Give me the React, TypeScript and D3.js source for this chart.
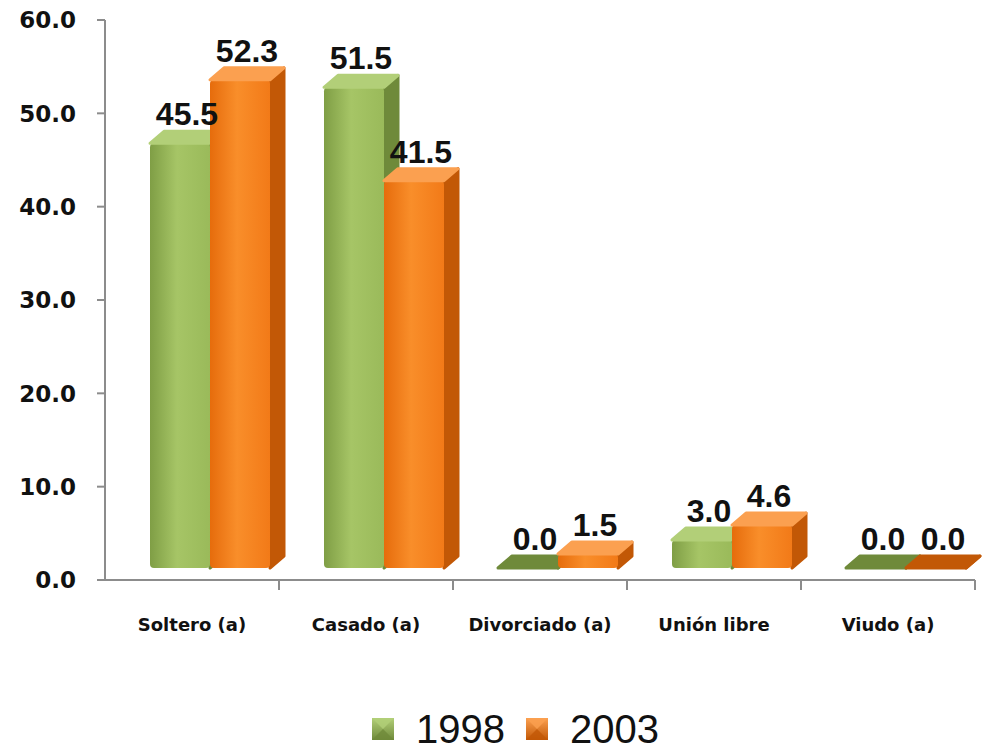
import React from "react";
import * as d3 from "d3";

const categories = ["Soltero (a)", "Casado (a)", "Divorciado (a)", "Unión libre", "Viudo (a)"];
const seriesNames = ["1998", "2003"];
const values1998 = [45.5, 51.5, 0.0, 3.0, 0.0];
const values2003 = [52.3, 41.5, 1.5, 4.6, 0.0];
const yTicks = [0, 10, 20, 30, 40, 50, 60];

const W = 984, H = 752;
const left = 105, right = 975, top = 20, bottom = 580;
const DX = 14, DY = 12;
const TICKFONT = "'DejaVu Sans', sans-serif";
const VALFONT = "'Liberation Sans', Arial, sans-serif";

const palette = [
  { front: ["#7f9e45", "#a6c566", "#9aba5a"], side: "#6f8a3a", top: "#b2cf78", id: "g" },
  { front: ["#e66c0c", "#f98e2a", "#f27a18"], side: "#c25806", top: "#fba050", id: "o" },
];

export default function App() {
  const x = d3.scaleBand<string>().domain(categories).range([left, right]).padding(0);
  const inner = d3.scaleBand<string>().domain(seriesNames).range([45, 165]).padding(0);
  const y = d3.scaleLinear().domain([0, 60]).range([bottom, top]);
  const series = [values1998, values2003];
  const bw = inner.bandwidth();
  const legendX = [372, 526];

  return (
    <svg width={W} height={H} style={{ position: "absolute", left: 0, top: 0, background: "#fff" }}>
      <defs>
        {palette.map((p) => (
          <linearGradient key={p.id} id={"front-" + p.id} x1="0" x2="1" y1="0" y2="0">
            <stop offset="0%" stopColor={p.front[0]} />
            <stop offset="45%" stopColor={p.front[1]} />
            <stop offset="100%" stopColor={p.front[2]} />
          </linearGradient>
        ))}
        {palette.map((p) => (
          <linearGradient key={"l" + p.id} id={"leg-" + p.id} x1="0" x2="0" y1="0" y2="1">
            <stop offset="0%" stopColor={p.top} />
            <stop offset="100%" stopColor={p.side} />
          </linearGradient>
        ))}
      </defs>
      {/* axes */}
      <line x1={left} x2={left} y1={top} y2={bottom} stroke="#8c8c8c" strokeWidth={2} />
      <line x1={left - 8} x2={right} y1={bottom} y2={bottom} stroke="#8c8c8c" strokeWidth={2} />
      {yTicks.map((t) => (
        <g key={t}>
          <line x1={left - 8} x2={left} y1={y(t)} y2={y(t)} stroke="#8c8c8c" strokeWidth={2} />
          <text x={76} y={y(t)} dy="0.36em" textAnchor="end" fontFamily={TICKFONT} fontWeight={700} fontSize={23} fill="#111">
            {t.toFixed(1)}
          </text>
        </g>
      ))}
      {categories.map((c, i) => (
        <line key={"xt" + i} x1={x(c)! + x.bandwidth()} x2={x(c)! + x.bandwidth()} y1={bottom} y2={bottom + 10} stroke="#8c8c8c" strokeWidth={2} />
      ))}
      {categories.map((c) => (
        <text key={"xl" + c} x={x(c)! + x.bandwidth() / 2} y={625} dy="0.36em" textAnchor="middle" fontFamily={TICKFONT} fontWeight={700} fontSize={18} fill="#111">
          {c}
        </text>
      ))}
      {/* bars */}
      {categories.map((c, i) =>
        seriesNames.map((s, si) => {
          const v = series[si][i];
          const p = palette[si];
          const x0 = x(c)! + inner(s)!;
          const x1 = x0 + bw;
          const yb = y(0) - DY;
          const yt = y(v) - DY;
          const h = yb - yt;
          const sidePath = `M${x1},${yt} L${x1 + DX},${yt - DY} L${x1 + DX},${yb - DY} L${x1},${yb} Z`;
          const topPath = `M${x0},${yt} L${x0 + DX},${yt - DY} L${x1 + DX},${yt - DY} L${x1},${yt} Z`;
          return (
            <g key={c + s}>
              <path d={sidePath} fill={p.side} stroke={p.side} strokeLinejoin="round" strokeWidth={3} />
              {h > 0 && <rect x={x0} y={yt} width={bw} height={h} rx={4} fill={`url(#front-${p.id})`} />}
              <path d={topPath} fill={h > 0 ? p.top : p.side} stroke={h > 0 ? p.top : p.side} strokeLinejoin="round" strokeWidth={3} />
            </g>
          );
        })
      )}
      {/* value labels */}
      {categories.map((c, i) =>
        seriesNames.map((s, si) => {
          const v = series[si][i];
          const x0 = x(c)! + inner(s)!;
          const yt = y(v) - DY;
          return (
            <text key={"v" + c + s} x={x0 + bw / 2 + DX / 2} y={yt - 18} textAnchor="middle" fontFamily={VALFONT} fontWeight={700} fontSize={32} fill="#111">
              {v.toFixed(1)}
            </text>
          );
        })
      )}
      {/* legend */}
      {seriesNames.map((s, si) => {
        const lx = legendX[si];
        const p = palette[si];
        return (
          <g key={"lg" + s}>
            <rect x={lx} y={718} width={22} height={22} fill={`url(#leg-${p.id})`} />
            <path d={`M${lx},${718} L${lx + 11},${729} L${lx + 22},${718} Z`} fill={p.top} opacity={0.8} />
            <path d={`M${lx},${740} L${lx + 11},${729} L${lx + 22},${740} Z`} fill={p.side} opacity={0.8} />
            <text x={lx + 44} y={729} dy="0.36em" fontFamily={VALFONT} fontSize={40} fill="#111">
              {s}
            </text>
          </g>
        );
      })}
    </svg>
  );
}
